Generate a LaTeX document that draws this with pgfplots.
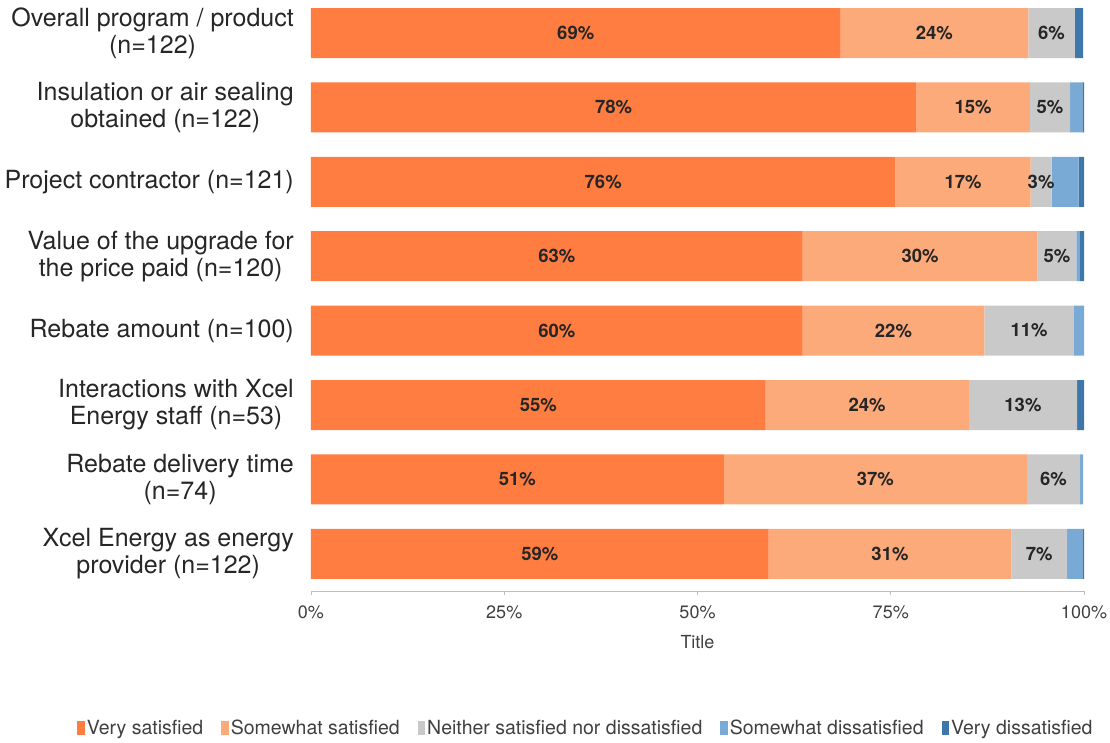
\documentclass[border=0pt]{standalone}
\usepackage{pgfplots}
\usepackage{pgfplotstable}
\pgfplotsset{compat=1.18}
\usepackage{fontspec}
\setmainfont{TeX Gyre Heros}
\definecolor{cVS}{RGB}{255,125,64}
\definecolor{cSS}{RGB}{253,170,122}
\definecolor{cN}{RGB}{201,201,201}
\definecolor{cSD}{RGB}{120,170,213}
\definecolor{cVD}{RGB}{62,120,170}
\definecolor{txt}{RGB}{38,38,38}
\definecolor{txt2}{RGB}{64,64,64}
\definecolor{axc}{RGB}{191,191,191}
\pgfplotstableread{
y vs ss n sd vd lvs lss ln
0 68.5 24.3 6.0 0.0 1.1 69 24 6
1 78.3 14.7 5.2 1.6 0.2 78 15 5
2 75.6 17.5 2.7 3.5 0.7 76 17 3
3 63.6 30.4 5.0 0.4 0.6 63 30 5
4 63.6 23.5 11.6 1.3 0.0 60 22 11
5 58.8 26.3 14.0 0.0 0.9 55 24 13
6 53.4 39.2 6.9 0.4 0.0 51 37 6
7 59.2 31.4 7.2 2.0 0.2 59 31 7
}\datatab
\begin{document}
\begin{tikzpicture}
\begin{axis}[
  name=ax,
  scale only axis,
  width=773pt, height=590.7pt,
  xbar stacked,
  bar width=50pt,
  y dir=reverse,
  xmin=0, xmax=100,
  ymin=-0.44, ymax=7.5,
  clip=false,
  /pgf/number format/assume math mode=true,
  axis x line*=bottom,
  axis y line*=left,
  y axis line style={draw=none},
  x axis line style={draw=axc, line width=0.8pt},
  xtick={0,25,50,75,100},
  xticklabels={0\%,25\%,50\%,75\%,100\%},
  xtick style={draw=axc, line width=0.8pt},
  tick align=outside,
  major tick length=4pt,
  xticklabel style={font=\fontsize{18}{21}\selectfont, text=txt2, yshift=-7pt},
  ytick={0,...,7},
  ytick style={draw=none},
  yticklabels={
    {Overall program / product\\(n=122)},
    {Insulation or air sealing\\obtained (n=122)},
    {Project contractor (n=121)},
    {Value of the upgrade for\\the price paid (n=120)},
    {Rebate amount (n=100)},
    {Interactions with Xcel\\Energy staff (n=53)},
    {Rebate delivery time\\(n=74)},
    {Xcel Energy as energy\\provider (n=122)}},
  yticklabel style={align=center, font=\fontsize{25}{27}\selectfont, text=txt, inner sep=0pt, xshift=-13pt},
  xlabel={Title},
  every axis x label/.style={at={(axis description cs:0.5,0)}, yshift=-51pt, anchor=center, font=\fontsize{18}{21}\selectfont, text=txt2},
  legend style={at={(axis description cs:0.3557,-0.232)}, anchor=center, draw=none,
    font=\fontsize{19.5}{22}\selectfont, text=txt2, legend columns=-1,
    /tikz/every even column/.append style={column sep=16pt},
    /tikz/every odd column/.append style={column sep=0pt}},
  legend image code/.code={\fill[#1] (0pt,-7pt) rectangle (7.5pt,7pt);},
  every node near coord/.append style={font=\bfseries\fontsize{18.5}{21}\selectfont, text=txt, anchor=center},
]
\addplot[fill=cVS, draw=none, point meta=explicit,
  nodes near coords={\pgfmathprintnumber{\pgfplotspointmeta}\%}]
  table[x=vs, y=y, meta=lvs] {\datatab};
\addplot[fill=cSS, draw=none, point meta=explicit,
  nodes near coords={\pgfmathprintnumber{\pgfplotspointmeta}\%}]
  table[x=ss, y=y, meta=lss] {\datatab};
\addplot[fill=cN, draw=none, point meta=explicit,
  nodes near coords={\pgfmathprintnumber{\pgfplotspointmeta}\%}]
  table[x=n, y=y, meta=ln] {\datatab};
\addplot[fill=cSD, draw=none] table[x=sd, y=y] {\datatab};
\addplot[fill=cVD, draw=none] table[x=vd, y=y] {\datatab};
\legend{Very satisfied, Somewhat satisfied, Neither satisfied nor dissatisfied, Somewhat dissatisfied, Very dissatisfied}
\end{axis}
\pgfresetboundingbox
\path[use as bounding box] ([shift={(-311pt,-151pt)}]ax.south west) rectangle ([shift={(26pt,0.3pt)}]ax.north east);
\end{tikzpicture}
\end{document}
